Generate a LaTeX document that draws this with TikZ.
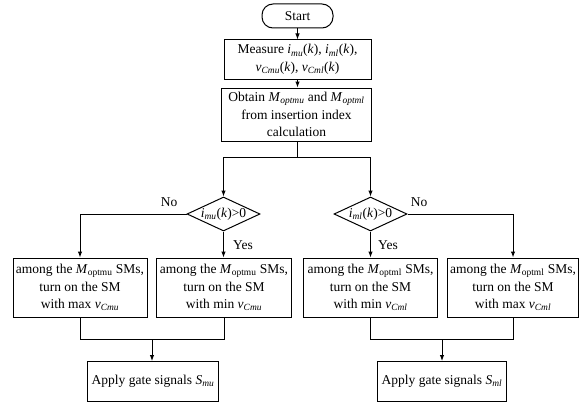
\documentclass[tikz,border=0pt]{standalone}
\usepackage{fontspec}
\setmainfont{Liberation Serif}
\usetikzlibrary{shapes.geometric,arrows.meta}
\newcommand\ix[2]{\textit{#1}\textsubscript{\textit{#2}}}
\newcommand\ir[2]{\textit{#1}\textsubscript{#2}}
\begin{document}
\begin{tikzpicture}[x=1pt,y=-1pt,
  every node/.style={font=\fontsize{13.5}{17.5}\selectfont},
  flow/.style={draw,line width=1pt,align=center,inner sep=1pt},
  dec/.style={draw,line width=1pt,shape=diamond,aspect=2.15,inner sep=0pt,
    minimum width=73pt,minimum height=34pt,text height=9pt,text depth=3pt},
  conn/.style={line width=1pt},
  arr/.style={conn,-{Latex[length=6pt,width=4.5pt]}},
  lbl/.style={inner sep=0pt}]
\useasboundingbox (0,0) rectangle (580,404);

\node[flow,rounded corners=11pt,minimum width=71pt,minimum height=24pt] (start) at (297.5,16) {Start};
\node[flow,minimum width=147pt,minimum height=39pt] (meas) at (297.5,59.5)
  {Measure \ix{i}{mu}(\textit{k}), \ix{i}{ml}(\textit{k}),\\ \ix{v}{Cmu}(\textit{k}), \ix{v}{Cml}(\textit{k})};
\node[flow,minimum width=150pt,minimum height=53pt] (obt) at (296.5,114.5)
  {Obtain \ix{M}{optmu} and \ix{M}{optml}\\ from insertion index\\ calculation};

\node[dec] (d1) at (223.5,214) {\ix{i}{mu}(\textit{k})>0};
\node[dec] (d2) at (370.5,214) {\ix{i}{ml}(\textit{k})>0};

\node[flow,minimum width=134pt,minimum height=59pt] (b1) at (80,287.5)
  {among the \ir{M}{optmu} SMs,\\ turn on the SM\\ with max \ix{v}{Cmu}};
\node[flow,minimum width=135pt,minimum height=59pt] (b2) at (224,287.5)
  {among the \ir{M}{optmu} SMs,\\ turn on the SM\\ with min \ix{v}{Cmu}};
\node[flow,minimum width=134pt,minimum height=59pt] (b3) at (370.5,287.5)
  {among the \ir{M}{optml} SMs,\\ turn on the SM\\ with min \ix{v}{Cml}};
\node[flow,minimum width=131pt,minimum height=59pt] (b4) at (513,287.5)
  {among the \ir{M}{optml} SMs,\\ turn on the SM\\ with max \ix{v}{Cml}};

\node[flow,minimum width=131pt,minimum height=40pt] (a1) at (153,381.5) {Apply gate signals \ix{S}{mu}};
\node[flow,minimum width=129pt,minimum height=40pt] (a2) at (442,381.5) {Apply gate signals \ix{S}{ml}};

\node[lbl] (no1) at (169,202) {No};
\node[lbl] (no2) at (419,202) {No};
\node[lbl] (yes1) at (243,245) {Yes};
\node[lbl] (yes2) at (388,245) {Yes};

\coordinate (j1) at (297,157);
\coordinate (m1) at (152,339);
\coordinate (m2) at (442,339);

\draw[arr] (start) -- (meas);
\draw[arr] (meas) -- (obt.north -| meas);
\draw[conn] (obt.south -| j1) -- (j1);
\draw[conn] (d1 |- j1) -- (d2 |- j1);
\draw[arr] (d1 |- j1) -- (d1.north);
\draw[arr] (d2 |- j1) -- (d2.north);

\draw[arr] (d1.west) -| (b1.north);
\draw[arr] (d1.south) -- (d1.south |- b2.north);
\draw[arr] (d2.east) -| (b4.north);
\draw[arr] (d2.south) -- (d2.south |- b3.north);

\draw[conn] (b1.south) -- (b1.south |- m1) -- (b2.south |- m1) -- (b2.south);
\draw[conn] (b3.south) -- (b3.south |- m2) -- (b4.south |- m2) -- (b4.south);
\draw[arr] (m1) -- (m1 |- a1.north);
\draw[arr] (m2) -- (m2 |- a2.north);
\end{tikzpicture}
\end{document}
